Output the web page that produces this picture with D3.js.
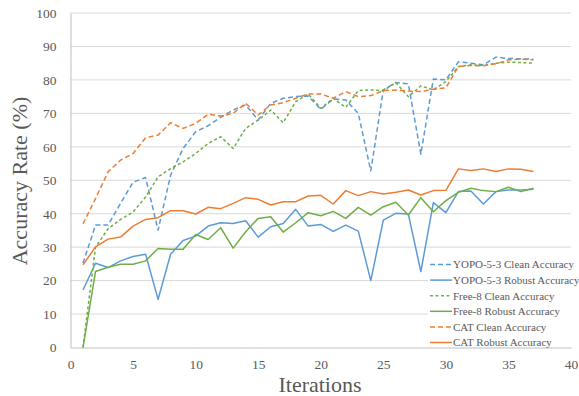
<!DOCTYPE html>
<html><head><meta charset="utf-8">
<script src="https://cdn.jsdelivr.net/npm/d3@7"></script>
<style>html,body{margin:0;padding:0;background:#fff;overflow:hidden}</style>
</head><body><svg id="c" width="579" height="396"></svg>
<script>
const iterations = d3.range(1, 38);
const yopoClean = [25.2,36.6,36.6,43.1,49.4,50.8,35.1,51.5,59.5,64.5,66.3,68.8,71,72.5,68,73,74.5,75,75.2,71.2,74.3,74,70,52.8,77,79.2,78.8,57.8,80.3,80,85.4,85,84.5,86.8,86.4,86.3,86.2];
const yopoRobust = [17.2,25.2,23.9,25.9,27.2,27.9,14.4,27.9,32,33.3,36.3,37.3,37.1,37.9,33,36.1,37.1,41.3,36.3,36.8,34.7,36.6,34.8,20,38.1,40.1,39.9,22.7,43.3,40.3,46.6,46.8,42.9,46.6,47.1,47.1,47.3];
const freeClean = [0,30,35.5,38.3,40.5,45,51,53.5,55.5,58,61,63,59.5,65.5,68,71,67.2,73.5,75.8,71.5,74.5,71.8,76.8,77,76.8,79.2,75,78.2,77,79.5,84,84.5,84.3,85,85.3,85.2,85];
const freeRobust = [0,22.7,24,24.9,24.9,25.9,29.6,29.4,29.4,33.8,32.3,35.8,29.7,34.6,38.6,39.1,34.5,37.3,40.3,39.4,40.7,38.6,41.9,39.6,42.1,43.4,39.6,44.8,40.6,43.9,46.4,47.6,46.9,46.6,47.9,46.6,47.6];
const catClean = [37,44.5,52.5,56,58,62.7,63.5,67.2,65.5,67,69.7,69.2,70,73,69.5,72.5,73.2,74.5,75.8,75.8,74.5,76.5,75,75.3,76.8,77,76.7,76.5,77.2,77.6,84,84.3,84.2,84.8,86,86.2,86];
const catRobust = [24.7,30.1,32.4,33,36.3,38.3,38.8,40.9,40.9,39.9,41.9,41.5,43.1,44.8,44.3,42.6,43.6,43.6,45.3,45.5,42.9,46.9,45.4,46.6,45.9,46.4,47.1,45.6,46.9,47,53.4,52.9,53.4,52.6,53.4,53.3,52.6];
const seriesNames = ["YOPO-5-3 Clean Accuracy","YOPO-5-3 Robust Accuracy","Free-8 Clean Accuracy","Free-8 Robust Accuracy","CAT Clean Accuracy","CAT Robust Accuracy"];
const xTicks = [0,5,10,15,20,25,30,35,40];
const yTicks = [0,10,20,30,40,50,60,70,80,90,100];

const blue="#5B9BD5", orange="#ED7D31", green="#70AD47";
const series = [
  {name:seriesNames[0], values:yopoClean, color:blue, dash:"5,3"},
  {name:seriesNames[1], values:yopoRobust, color:blue, dash:null},
  {name:seriesNames[2], values:freeClean, color:green, dash:"3,2.5"},
  {name:seriesNames[3], values:freeRobust, color:green, dash:null},
  {name:seriesNames[4], values:catClean, color:orange, dash:"5,3"},
  {name:seriesNames[5], values:catRobust, color:orange, dash:null}
];

const svg = d3.select("#c");
const L=70.5, R=571, T=13, B=347.5;
const x = d3.scaleLinear().domain([0,40]).range([L,R]);
const y = d3.scaleLinear().domain([0,100]).range([B,T]);
const font = "'Liberation Serif','Times New Roman',serif";

// gridlines
svg.append("g").selectAll("line").data(yTicks.filter(d=>d>0)).join("line")
  .attr("x1",L).attr("x2",R).attr("y1",d=>y(d)).attr("y2",d=>y(d))
  .attr("stroke","#D9D9D9").attr("stroke-width",1);

// axes
const yAxis = svg.append("g").attr("transform",`translate(${L},0)`)
  .call(d3.axisLeft(y).tickValues(yTicks).tickSize(0).tickPadding(14));
yAxis.select(".domain").attr("stroke","#BFBFBF");
const xAxis = svg.append("g").attr("transform",`translate(0,${B})`)
  .call(d3.axisBottom(x).tickValues(xTicks).tickSize(0).tickPadding(12));
xAxis.select(".domain").attr("stroke","#BFBFBF");
svg.selectAll(".tick text").attr("font-family",font).attr("font-size","13.5px").attr("fill","#595959");

// lines
const line = d3.line().x((d,i)=>x(iterations[i])).y(d=>y(d));
svg.append("g").selectAll("path").data(series).join("path")
  .attr("d",d=>line(d.values)).attr("fill","none")
  .attr("stroke",d=>d.color).attr("stroke-width",1.5)
  .attr("stroke-dasharray",d=>d.dash).attr("stroke-linejoin","round");

// axis titles
svg.append("text").attr("x",320).attr("y",392).attr("text-anchor","middle")
  .attr("font-family",font).attr("font-size","22px").attr("fill","#595959").text("Iterations");
svg.append("text").attr("transform","translate(27,181) rotate(-90)").attr("text-anchor","middle")
  .attr("font-family",font).attr("font-size","22px").attr("fill","#595959").text("Accuracy Rate (%)");

// legend
const lg = svg.append("g");
lg.append("rect").attr("x",428).attr("y",256).attr("width",160).attr("height",91).attr("fill","#fff");
const ly = d3.scaleLinear().domain([0,5]).range([264.5,342.5]);
const items = lg.selectAll("g").data(series).join("g").attr("transform",(d,i)=>`translate(0,${ly(i)})`);
items.append("line").attr("x1",430).attr("x2",452).attr("y1",0).attr("y2",0)
  .attr("stroke",d=>d.color).attr("stroke-width",1.5).attr("stroke-dasharray",d=>d.dash);
items.append("text").attr("x",453).attr("y",0).attr("dy","0.35em")
  .attr("font-family",font).attr("font-size","11px").attr("fill","#595959").text(d=>d.name);
</script></body></html>
